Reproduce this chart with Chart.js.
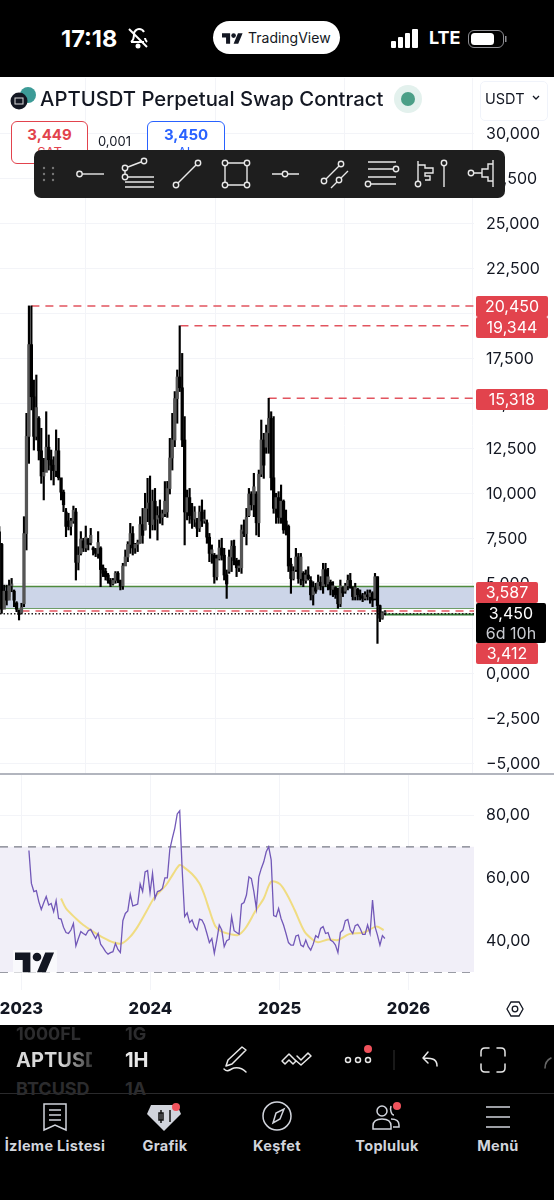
<!DOCTYPE html>
<html>
<head>
<meta charset="utf-8">
<title>APTUSDT</title>
<script src="https://cdn.jsdelivr.net/npm/chart.js@4"></script>
<style>
html,body{margin:0;padding:0;background:#000;}
body{width:554px;height:1200px;position:relative;overflow:hidden;font-family:Inter,"Noto Sans",sans-serif;}
.abs{position:absolute;white-space:nowrap;}
#panel{position:absolute;left:0;top:77px;width:554px;height:948px;background:#fff;}
canvas{position:absolute;left:0;}
#priceChart{top:78px;}
#rsiChart{top:775px;}
#sep{position:absolute;left:0;top:773px;width:554px;height:2px;background:#b2b5be;}
.tag{position:absolute;left:476px;height:21px;line-height:21px;background:#e2434d;color:#fff;font-size:16px;border-radius:2px;text-align:center;}
.nav{position:absolute;top:1137px;font-size:14.5px;font-weight:700;letter-spacing:.3px;color:#d1d4dc;transform:translateX(-50%);white-space:nowrap;}
.fade{background:linear-gradient(90deg,#d8d8d8 60%,#333 100%);-webkit-background-clip:text;background-clip:text;color:transparent;width:76px;overflow:hidden;}
svg{position:absolute;left:0;top:0;}
</style>
</head>
<body>
<div id="panel"></div>
<canvas id="priceChart" width="554" height="695"></canvas>
<div id="sep"></div>
<canvas id="rsiChart" width="554" height="250"></canvas>

<!-- status bar -->
<div class="abs" style="left:61px;top:24px;font-size:23.500px;font-weight:700;color:#fff;">17:18</div>
<div class="abs" style="left:213px;top:21px;width:127px;height:33px;border-radius:17px;background:#fff;"></div>
<div class="abs" style="left:248px;top:29px;font-size:14px;color:#131722;">TradingView</div>
<div class="abs" style="left:429px;top:27px;font-size:18px;font-weight:700;color:#fff;">LTE</div>

<!-- header -->
<div class="abs" style="left:40px;top:86px;font-size:20.300px;font-weight:500;color:#131722;">APTUSDT Perpetual Swap Contract</div>
<div class="abs" style="left:480px;top:81px;width:66px;height:38px;border:1px solid #f0f3fa;border-radius:5px;"></div>
<div class="abs" style="left:485px;top:90px;font-size:14.500px;color:#131722;">USDT</div>
<div class="abs" style="left:11px;top:121px;width:75px;height:41px;border:1px solid #e2434d;border-radius:6px;background:#fff;text-align:center;color:#e2434d;">
  <div style="font-size:15px;font-weight:700;line-height:18px;margin-top:4px;">3,449</div><div style="font-size:13px;line-height:16px;">SAT</div></div>
<div class="abs" style="left:98px;top:133px;font-size:13px;color:#131722;">0,001</div>
<div class="abs" style="left:147px;top:121px;width:76px;height:41px;border:1px solid #2962ff;border-radius:6px;background:#fff;text-align:center;color:#2962ff;">
  <div style="font-size:15px;font-weight:700;line-height:18px;margin-top:4px;">3,450</div><div style="font-size:13px;line-height:16px;">AL</div></div>

<!-- price tags -->
<div class="tag" style="top:296px;width:72px;">20,450</div>
<div class="tag" style="top:317px;width:72px;">19,344</div>
<div class="tag" style="top:389px;width:72px;">15,318</div>
<div class="tag" style="top:582px;width:62px;">3,587</div>
<div class="abs" style="left:476px;top:603px;width:70px;height:40px;background:#000;border-radius:2px;color:#fff;font-size:16px;line-height:20px;text-align:center;">3,450<br><span style="color:#c9cbd1;">6d 10h</span></div>
<div class="tag" style="top:643px;width:62px;">3,412</div>

<!-- bottom bar -->
<div class="abs" style="left:16px;top:1023px;font-size:18px;font-weight:700;color:#2c2c2e;">1000FL</div>
<div class="abs" style="left:125px;top:1023px;font-size:18px;font-weight:700;color:#2c2c2e;">1G</div>
<div class="abs fade" style="left:16px;top:1048px;font-size:20px;font-weight:700;">APTUSD</div>
<div class="abs" style="left:125px;top:1048px;font-size:20px;font-weight:700;color:#e8e8e8;">1H</div>
<div class="abs" style="left:16px;top:1078px;font-size:18px;font-weight:700;color:#2c2c2e;">BTCUSD</div>
<div class="abs" style="left:125px;top:1078px;font-size:18px;font-weight:700;color:#2c2c2e;">1A</div>
<div class="abs" style="left:0;top:1093px;width:554px;height:1px;background:#2a2a2c;"></div>
<div class="nav" style="left:55px;">İzleme Listesi</div>
<div class="nav" style="left:165px;">Grafik</div>
<div class="nav" style="left:277px;">Keşfet</div>
<div class="nav" style="left:387px;">Topluluk</div>
<div class="nav" style="left:498px;">Menü</div>

<!-- icons and toolbar -->
<svg width="554" height="1200" fill="none">
  <!-- status icons -->
  <g stroke="#fff" stroke-width="2"><path d="M129 29l18 18"/><path d="M131 42h13M131 42c3-2 3-5 3-8 0-3 3-5 5-5s4 1 5 3M145 38c0 1 1 3 2 4" /></g>
  <circle cx="138" cy="46" r="2.500" fill="#fff"/>
  <g fill="#131722"><path transform="translate(222,31) scale(.58)" d="M14 22H7V11H0V4h14v18zM28 22h-8l7.500-18h8L28 22z"/><circle cx="233.600" cy="35.600" r="2.300"/></g>
  <g fill="#fff"><rect x="391" y="41" width="5" height="7" rx="1"/><rect x="398" y="37" width="5" height="11" rx="1"/><rect x="405" y="33" width="5" height="15" rx="1"/><rect x="412" y="29" width="6" height="19" rx="1"/></g>
  <rect x="468.500" y="30.500" width="35" height="17" rx="5.500" stroke="#8e8e93"/><rect x="471" y="33" width="23" height="12" rx="3.500" fill="#fff"/><rect x="505" y="36" width="1.500" height="6" fill="#8e8e93"/>
  <!-- header icons -->
  <circle cx="28" cy="95" r="8" fill="#3c9b97"/><circle cx="19" cy="101" r="8.500" fill="#131722"/><rect x="15" y="98" width="8" height="6" stroke="#ddd" stroke-width="1"/>
  <circle cx="408" cy="99" r="14" fill="#e3f1ed"/><circle cx="408" cy="99" r="7" fill="#4b9f87"/>
  <path d="M533 96l3 3 3-3" stroke="#131722" stroke-width="1.300"/>

  <!-- toolbar -->
  <rect x="34" y="150" width="471" height="48" rx="7" fill="#1e1e1e"/>
  <g fill="#777"><circle cx="44" cy="168" r="1.200"/><circle cx="53" cy="168" r="1.200"/><circle cx="44" cy="174" r="1.200"/><circle cx="53" cy="174" r="1.200"/><circle cx="44" cy="180" r="1.200"/><circle cx="53" cy="180" r="1.200"/></g>
  <g stroke="#e8e8e8" stroke-width="1.400">
    <path d="M82 174h22"/><circle cx="79.500" cy="174" r="2.700"/>
    <path d="M128 167l13-5M125 171v3M128 177h26M125 182h29M125 187h29"/><circle cx="125" cy="168" r="2.700"/><circle cx="144" cy="161" r="2.700"/><circle cx="125" cy="177" r="2.700"/>
    <path d="M178 183l18-18"/><circle cx="176" cy="185" r="2.700"/><circle cx="198" cy="163" r="2.700"/>
    <path d="M228 163h16M228 185h16M225 166v16M247 166v16"/><circle cx="225" cy="163" r="2.700"/><circle cx="247" cy="163" r="2.700"/><circle cx="225" cy="185" r="2.700"/><circle cx="247" cy="185" r="2.700"/>
    <path d="M272 174h10M288 174h11"/><circle cx="285" cy="174" r="2.700"/>
    <path d="M326 179l13-13M331 188l6-6M341 178l7-7"/><circle cx="324" cy="181" r="2.700"/><circle cx="341" cy="164" r="2.700"/><circle cx="339" cy="180" r="2.700"/>
    <path d="M368 162h28M368 169h25M368 177h28M371 184h25"/><circle cx="396" cy="169" r="2.700"/><circle cx="368" cy="184" r="2.700"/>
    <path d="M418 161v20M418 165h7v3h8v5h-8v3h5v4h-5"/><circle cx="418" cy="184" r="2.700"/>
    <path d="M444 166v21"/><circle cx="444" cy="163" r="2.700"/>
    <path d="M493 160v27M474 173h8v-4h6v-5h5M482 173v4h6v4h5"/><circle cx="471" cy="173" r="2.700"/>
  </g>

  <!-- tradingview watermark -->
  <rect x="13" y="950" width="44" height="24" fill="#fff" opacity=".6"/>
  <g fill="#131722"><path transform="translate(15,948) scale(1.100)" d="M14 22H7V11H0V4h14v18zM28 22h-8l7.500-18h8L28 22z"/><circle cx="37" cy="957" r="4.300"/></g>

  <!-- settings hexagon -->
  <g stroke="#131722" stroke-width="1.300"><path d="M507 1009l4-7h8l4 7-4 7h-8z"/><circle cx="515" cy="1009" r="2.800"/></g>

  <!-- bottom tools -->
  <g stroke="#e8e8e8" stroke-width="1.500" stroke-linecap="round" stroke-linejoin="round">
    <path d="M228 1060l14-13 4 3-14 14-6 2zM224 1069c4 4 6 0 10-1 5-1 8 0 12 4"/>
    <path d="M282 1061l7-7 7 7-3 3-4-4-4 4zM297 1056l4 4 7-7 3 3-10 9-7-6"/>
    <circle cx="348" cy="1060" r="2.500"/><circle cx="358" cy="1060" r="2.500"/><circle cx="368" cy="1060" r="2.500"/>
    <path d="M437 1066c0-6-3-8-13-8M428 1052l-5 6 5 5"/>
    <path d="M481 1056v-4q0-4 4-4h4M497 1048h4q4 0 4 4v4M481 1064v4q0 4 4 4h4M497 1072h4q4 0 4-4v-4"/>
    <path d="M545 1068c0-5 2-8 6-10" stroke="#666"/>
  </g>
  <path d="M394 1050v20" stroke="#333"/>
  <circle cx="368" cy="1049" r="4" fill="#f0525c"/>

  <!-- bottom nav -->
  <g stroke="#d1d4dc" stroke-width="1.500">
    <path d="M44 1104h22v26l-11-5-11 5z"/><path d="M49 1110h12M49 1115h12M49 1120h12"/>
    <circle cx="277" cy="1116" r="14"/><path d="M284 1109l-4 10-7 4 3-10z"/>
    <circle cx="382" cy="1111" r="5"/><path d="M373 1129v-3c0-5 4-7 9-7s9 2 9 7v3zM391 1119c5 0 8 2 8 6v2h-6M391 1106c-1 3 0 9 3 9" />
    <path d="M486 1107h24M486 1117h24M486 1127h24"/>
  </g>
  <path d="M151 1105h26l4 9-17 17-17-17z" fill="#d1d4dc"/>
  <g stroke="#111" stroke-width="1.500"><rect x="159" y="1113" width="4" height="7"/><path d="M161 1110v13M170 1110v12"/></g>
  <circle cx="176" cy="1107" r="4" fill="#f0525c"/>
  <circle cx="397" cy="1106" r="4" fill="#f0525c"/>
</svg>

<script>
// weekly candles, week 0 is the first week of 2023
const firstWeek = -9;
const highs = [
	8.19,7.26,4.94,4.94,5.22,5.31,4.67,4.02,3.56,3.93,
	8.74,14.48,20.45,20.45,16.33,16.61,14.30,13.65,11.98,14.57,
	13.28,12.44,12.07,13.56,13.09,10.87,10.22,9.20,8.93,8.65,
	9.33,9.20,7.07,7.91,7.54,8.22,7.54,8.09,7.07,6.98,
	7.91,7.07,6.06,5.87,5.59,5.31,5.31,5.69,5.69,5.22,
	6.15,6.89,7.35,8.37,8.19,7.26,7.44,8.74,9.20,10.04,
	10.87,11.00,10.22,10.31,9.30,9.67,9.11,10.69,10.70,13.09,
	14.48,15.69,16.89,19.344,17.81,14.30,10.22,10.31,9.48,9.30,
	8.65,9.33,9.67,9.11,8.56,7.81,7.17,6.70,6.61,7.44,
	7.54,6.98,5.78,6.89,7.41,7.44,6.43,6.33,8.28,8.56,
	9.20,10.31,10.13,11.15,10.13,11.33,14.11,13.37,13.83,15.318,
	14.57,14.30,10.04,10.13,10.50,9.67,9.11,8.28,6.43,5.96,
	6.98,6.70,6.70,5.69,5.78,5.96,5.41,5.13,5.04,5.50,
	5.41,6.15,6.15,5.87,5.22,5.13,4.85,4.76,5.22,4.85,
	5.04,5.50,5.59,4.85,5.04,4.76,4.67,4.48,4.57,4.67,
	4.67,4.57,5.59,5.41,3.83,3.46,3.52
];
const lows = [
	3.37,3.37,3.74,3.83,4.30,4.57,3.74,3.46,3.00,3.37,
	3.74,6.89,11.70,14.67,12.44,13.00,11.89,10.59,9.67,11.70,
	11.33,10.78,10.50,10.96,10.78,9.67,9.02,7.63,8.00,7.72,
	8.37,5.22,5.78,6.61,6.80,6.80,6.89,7.17,6.61,6.52,
	6.43,4.85,5.41,5.22,5.04,4.85,4.94,5.04,5.07,4.67,
	4.70,6.15,6.24,6.70,6.61,6.70,6.80,7.26,7.26,8.00,
	8.46,7.54,8.00,8.00,7.44,8.37,8.28,8.74,8.70,10.00,
	11.33,12.63,13.93,15.69,12.63,7.17,8.56,8.37,8.09,8.19,
	7.63,7.91,8.19,8.37,7.26,6.24,6.15,5.04,5.22,6.33,
	6.33,5.22,4.20,5.59,5.69,6.06,5.41,5.69,5.59,7.63,
	7.17,8.74,9.11,8.74,7.72,7.63,10.96,10.87,12.26,12.26,
	10.22,8.93,8.37,8.37,8.37,7.81,7.72,5.69,4.48,5.22,
	5.69,5.04,4.94,4.85,5.04,5.22,4.11,3.83,4.48,4.76,
	4.67,4.48,4.85,4.67,4.39,4.30,4.20,3.65,3.74,4.30,
	4.48,4.67,4.76,4.11,4.11,4.11,4.11,4.02,4.11,4.11,
	3.93,3.74,4.11,1.70,2.91,3.04,3.28
];
const opens = [
	7.9,7.2,3.6,4.6,4.1,4.9,4.6,3.95,3.55,3.4,
	3.9,7.8,13.2,18.3,15.4,13.2,14.2,12.4,11.0,11.2,
	12.6,11.9,11.6,11.3,12.4,10.9,10.1,9.0,8.5,8.2,
	8.5,9.0,6.2,6.7,7.4,7.0,7.5,7.3,7.0,6.9,
	6.7,7.0,5.9,5.7,5.5,5.2,5.0,5.2,5.6,5.2,
	4.9,6.0,6.5,7.2,7.8,7.0,7.2,7.3,8.3,8.0,
	9.2,9.5,8.3,9.6,8.6,8.8,8.7,8.9,9.0,10.3,
	12.0,13.0,15.3,16.5,15.9,13.0,9.0,9.8,8.8,8.6,
	8.4,8.1,9.0,8.5,8.4,7.6,6.7,6.6,5.4,6.4,
	7.0,6.6,5.5,5.7,6.5,7.1,6.3,5.9,5.9,7.9,
	7.8,8.8,10.0,9.4,10.0,8.4,11.1,13.0,12.6,13.4,
	14.2,10.9,9.2,9.8,8.7,9.6,8.5,8.2,6.1,5.3,
	5.8,6.5,5.3,5.6,5.2,5.5,5.2,4.4,4.8,4.7,
	5.1,4.9,5.8,5.0,5.1,4.7,4.8,4.4,3.9,4.8,
	4.6,4.9,5.2,4.8,4.3,4.7,4.4,4.3,4.2,4.4,
	4.3,4.5,4.2,5.4,3.8,3.1,3.4
];
const closes = [
	7.2,3.6,4.6,4.1,4.9,5.0,4.1,3.6,3.3,3.7,
	7.8,13.2,18.3,15.4,13.2,14.8,12.4,11.0,11.2,12.6,
	11.9,11.6,11.3,12.4,10.9,10.1,9.4,8.2,8.2,8.5,
	9.1,6.2,6.6,7.5,7.0,7.6,7.2,7.7,6.9,6.7,
	7.3,5.8,5.6,5.4,5.2,5.0,5.2,5.6,5.2,4.9,
	6.0,6.5,7.2,7.8,7.0,7.2,7.3,8.3,7.7,9.2,
	9.5,8.3,9.6,8.6,8.8,8.7,8.9,9.6,10.3,12.0,
	13.0,15.3,16.5,15.9,13.0,9.0,9.8,8.8,8.6,9.0,
	8.1,9.0,8.5,8.6,7.6,6.7,6.9,5.4,6.4,7.0,
	6.6,5.5,5.0,6.5,7.1,6.3,5.9,6.0,8.0,7.8,
	8.7,10.0,9.4,10.4,8.4,11.1,13.0,11.6,13.4,14.2,
	10.9,9.2,9.8,8.7,9.6,8.0,8.2,6.0,5.3,5.7,
	6.5,5.3,6.5,5.2,5.5,5.3,4.4,4.8,4.6,5.1,
	4.9,5.8,5.0,5.4,4.7,4.9,4.4,3.9,4.9,4.5,
	4.9,5.2,4.8,4.3,4.8,4.4,4.3,4.2,4.4,4.3,
	4.5,4.1,5.4,3.8,3.1,3.4,3.45
];

// RSI per week, first reading in week 3
const rsiFirstWeek = 3;
const rsiValues = [
	68.8,58.3,55.7,56.0,52.5,50.0,52.1,54.1,51.4,51.9,
	49.3,52.8,47.1,46.9,44.3,42.6,42.3,43.4,45.5,38.3,
	40.7,42.9,42.3,41.8,43.2,43.6,42.1,40.7,42.3,38.9,
	37.8,36.5,35.7,36.2,36.5,39.1,37.2,36.2,46.4,48.7,
	49.5,54.8,51.1,51.4,51.7,58.1,55.7,62.0,62.4,55.3,
	61.5,53.5,55.7,56.0,56.7,60.1,60.1,69.2,72.7,75.9,
	80.5,81.5,62.6,47.7,48.9,45.8,46.6,44.5,43.4,46.9,
	46.6,45.0,42.3,39.4,40.7,36.0,40.2,45.0,43.4,38.1,
	40.0,40.4,47.7,43.2,42.6,42.1,51.7,52.2,54.6,60.4,
	59.8,55.7,50.3,60.4,63.1,65.2,68.4,70.0,65.8,48.0,
	47.7,50.3,47.1,45.0,42.3,39.4,38.6,38.6,41.5,41.8,
	38.6,38.1,40.2,38.1,37.0,38.9,41.6,41.0,43.9,44.5,
	42.3,42.6,40.2,39.7,38.6,36.2,42.6,43.4,46.4,46.8,
	43.4,42.3,44.8,45.2,43.9,42.0,42.0,45.0,42.3,53.0,
	44.5,41.8,38.6,41.6,40.7
];
// RSI moving average, read at these weeks
const maWeeks = [16,18,22,25,29,33,37,40.5,44,47,50.5,53.5,56,58.5,61.5,64,65.5,69,72,74,76,78.5,81,84.5,87.5,90.5,94.5,98,101,104.5,107.5,110.5,114.5,118,120,124,128,132.5,138.5,143.5,146.5];
const maValues = [53.5,50.3,47.1,45.0,42.9,41.0,39.5,39.1,41.3,44.5,49.3,53.5,55.7,57.8,61.5,64.2,63.6,61.3,58.3,54.6,49.8,44.5,42.9,42.1,41.8,43.9,49.3,53.5,58.8,58.1,54.6,49.8,42.9,40.2,39.5,40.4,40.2,42.1,42.6,44.5,43.4];

// price levels drawn on the chart: value and the week they start from
const levelValues = [20.45,19.344,15.318,3.5];
const levelStart = [4,64.3,100,0];
const zoneTop = 4.86;
const zoneBottom = 3.65;
const zoneStart = -6.8;
const lastPrice = 3.35;
const stopLine = 3.3;
const stopStart = 147;

const priceTicks = [-5,-2.5,0,2.5,5,7.5,10,12.5,15,17.5,20,22.5,25,27.5,30];
const rsiTicks = [40,60,80];
const rsiLevels = [70,50,30];
const yearWeeks = [0,52.14,104.43,156.57];
const yearLabels = ['2023','2024','2025','2026'];

const weekMin = -8.7, weekMax = 183.05;
const gridColor = '#f3f4f8';
const textColor = '#131722';

const candleWeeks = highs.map((h, i) => firstWeek + i);

function lineSet(x0, x1, y, color, width, dash, order) {
	return {
		type: 'line',
		data: [{x: x0, y: y}, {x: x1, y: y}],
		borderColor: color,
		borderWidth: width,
		borderDash: dash,
		pointRadius: 0,
		order: order,
	};
}

function xScale(extra) {
	return Object.assign({
		type: 'linear',
		min: weekMin,
		max: weekMax,
		offset: false,
		border: {display: false},
		grid: {color: gridColor, drawTicks: false},
		afterBuildTicks: s => { s.ticks = yearWeeks.map(v => ({value: v})); },
	}, extra);
}

function rightAxis(min, max, tickList, format) {
	return {
		position: 'right',
		min: min,
		max: max,
		border: {display: false},
		grid: {color: gridColor, drawTicks: false},
		afterBuildTicks: s => { s.ticks = tickList.map(v => ({value: v})); },
		// no room for half labels, the plot runs the full height of the pane
		afterFit: s => { s.width = 80; s.paddingTop = 0; s.paddingBottom = 0; },
		ticks: {
			crossAlign: 'near',
			padding: 12,
			color: textColor,
			font: {family: 'Inter', size: 16},
			callback: format,
		},
	};
}

// price pane
const priceSets = [];
// blue zone
priceSets.push(Object.assign(lineSet(zoneStart, weekMax, zoneTop, '#4f8a3e', 1.5, [], 6), {fill: '+1', backgroundColor: '#ccd5e8'}));
priceSets.push(lineSet(zoneStart, weekMax, zoneBottom, '#4f8a3e', 1.5, [], 6));
levelValues.forEach((v, i) => {
	priceSets.push(lineSet(levelStart[i], weekMax, v, '#e2545f', 1.5, [8, 6], 5));
});
priceSets.push(lineSet(weekMin, weekMax, lastPrice, '#222', 1.5, [1.5, 2], 4));
priceSets.push(lineSet(stopStart, weekMax, stopLine, '#2e7d32', 2, [], 4));
priceSets.push({
	type: 'bar',
	data: candleWeeks.map((w, i) => ({x: w, y: [lows[i], highs[i]]})),
	backgroundColor: '#000',
	barThickness: 1.5,
	grouped: false,
	order: 2,
});
priceSets.push({
	type: 'bar',
	data: candleWeeks.map((w, i) => ({x: w, y: [Math.min(opens[i], closes[i]), Math.max(opens[i], closes[i])]})),
	backgroundColor: candleWeeks.map((w, i) => closes[i] >= opens[i] ? '#555' : '#000'),
	barThickness: 2.6,
	grouped: false,
	order: 1,
});

new Chart(document.getElementById('priceChart'), {
	type: 'bar',
	data: {datasets: priceSets},
	options: {
		responsive: false,
		animation: false,
		layout: {padding: 0},
		plugins: {legend: {display: false}, tooltip: {enabled: false}},
		scales: {
			x: xScale({
				ticks: {display: false},
				afterFit: s => { s.height = 0; s.paddingLeft = 0; s.paddingRight = 0; },
			}),
			y: rightAxis(-5.5, 33.11, priceTicks, v => v.toFixed(3).replace('.', ',').replace('-', '−')),
		},
	},
});

// rsi pane
const rsiSets = [];
rsiSets.push(Object.assign(lineSet(weekMin, weekMax, rsiLevels[0], '#787b86', 1.3, [8, 6], 6), {fill: '+2', backgroundColor: '#f1eff8'}));
rsiSets.push(lineSet(weekMin, weekMax, rsiLevels[1], '#a9a7b3', 1.3, [8, 6], 6));
rsiSets.push(lineSet(weekMin, weekMax, rsiLevels[2], '#787b86', 1.3, [8, 6], 6));
rsiSets.push({
	type: 'line',
	data: maWeeks.map((w, i) => ({x: w, y: maValues[i]})),
	borderColor: '#f0dc82',
	borderWidth: 2,
	pointRadius: 0,
	tension: 0.3,
	order: 2,
});
rsiSets.push({
	type: 'line',
	data: rsiValues.map((v, i) => ({x: rsiFirstWeek + i, y: v})),
	borderColor: '#7258b8',
	borderWidth: 1.3,
	pointRadius: 0,
	order: 1,
});

new Chart(document.getElementById('rsiChart'), {
	type: 'line',
	data: {datasets: rsiSets},
	options: {
		responsive: false,
		animation: false,
		layout: {padding: 0},
		plugins: {legend: {display: false}, tooltip: {enabled: false}},
		scales: {
			x: xScale({
				afterFit: s => { s.height = 35; s.paddingLeft = 0; s.paddingRight = 0; },
				ticks: {
					autoSkip: false,
					maxRotation: 0,
					padding: 9,
					color: textColor,
					font: {family: 'Inter', size: 16.5, weight: '800'},
					callback: v => yearLabels[yearWeeks.indexOf(v)],
				},
			}),
			y: rightAxis(24.25, 92.94, rsiTicks, v => v.toFixed(2).replace('.', ',')),
		},
	},
});
</script>
</body>
</html>
